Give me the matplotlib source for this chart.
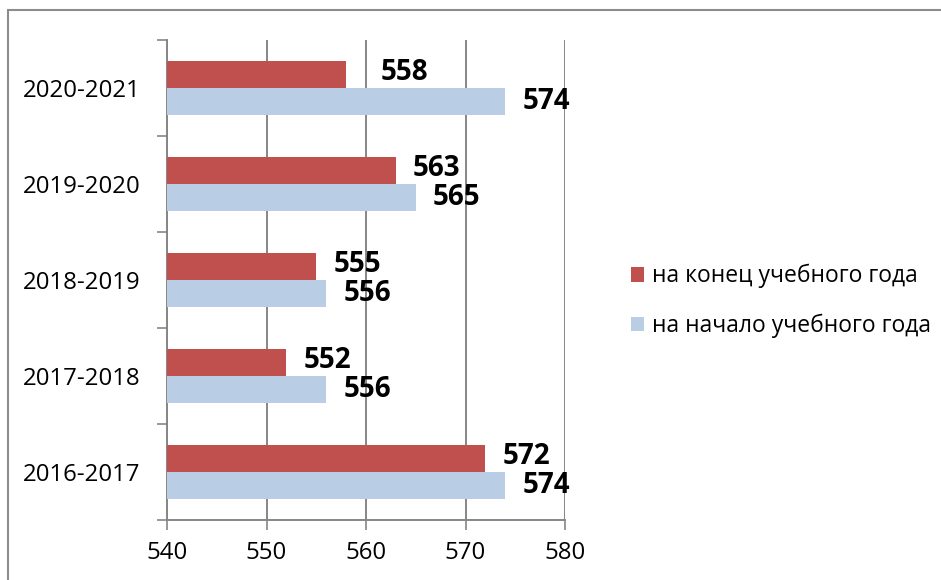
import matplotlib.pyplot as plt
import numpy as np
from matplotlib.patches import Rectangle

# Данные
years = ['2016-2017', '2017-2018', '2018-2019', '2019-2020', '2020-2021']
konec = [572, 552, 555, 563, 558]
nachalo = [574, 556, 556, 565, 574]
label_konec = 'на конец учебного года'
label_nachalo = 'на начало учебного года'
xticks = [540, 550, 560, 570, 580]

red = '#C0504D'
blue = '#B9CDE5'
grey = '#868686'

plt.rcParams['font.family'] = ['Open Sans', 'DejaVu Sans']

fig = plt.figure(figsize=(9.41, 5.8), dpi=100)
ax = fig.add_axes([167 / 941, 1 - 520 / 580, 398 / 941, 480 / 580])

y = np.arange(len(years))
h = 0.286
ax.barh(y + h / 2, [v - 540 for v in konec], left=540, height=h, color=red, label=label_konec, zorder=3)
ax.barh(y - h / 2, [v - 540 for v in nachalo], left=540, height=h, color=blue, label=label_nachalo, zorder=3)

# Подписи значений
pad_konec = [17, 17, 17, 17, 35]
pad_nachalo = [17, 17, 17, 17, 17]
for i in range(len(years)):
    ax.annotate(str(konec[i]), (konec[i], y[i] + h / 2), xytext=(pad_konec[i] * 0.72, 1),
                textcoords='offset points', va='center', ha='left',
                fontsize=20, fontweight='bold', zorder=5, annotation_clip=False)
    ax.annotate(str(nachalo[i]), (nachalo[i], y[i] - h / 2), xytext=(pad_nachalo[i] * 0.72, 0),
                textcoords='offset points', va='center', ha='left',
                fontsize=20, fontweight='bold', zorder=5, annotation_clip=False)

ax.set_xlim(540, 580)
ax.set_ylim(-0.5, len(years) - 0.5)
ax.set_xticks(xticks)
ax.set_xticklabels([str(t) for t in xticks], fontsize=17.3)
ax.xaxis.grid(True, color=grey, linewidth=1.4, zorder=0)
ax.tick_params(axis='x', length=7, width=1.2, color=grey, pad=8)

ax.set_yticks(np.arange(-0.5, len(years), 1.0))
ax.set_yticklabels([])
ax.set_yticks(y, minor=True)
ax.set_yticklabels(years, minor=True, fontsize=17.3)
ax.tick_params(axis='y', which='major', length=7, width=1.2, color=grey)
ax.tick_params(axis='y', which='minor', length=0, pad=19)

for s in ['top', 'right']:
    ax.spines[s].set_visible(False)
for s in ['left', 'bottom']:
    ax.spines[s].set_color(grey)
    ax.spines[s].set_linewidth(1.4)

fig.legend(loc='center left', bbox_to_anchor=(610 / 941, 1 - 301 / 580), frameon=False,
           fontsize=16.5, handlelength=0.6, handleheight=0.6, handletextpad=0.35,
           labelspacing=1.1)

# Рамка вокруг диаграммы
fig.patches.append(Rectangle((8, -20), 960, 580 - 10 + 20, transform=None,
                             fill=False, edgecolor='#8c8c8c', linewidth=1.5))

fig.savefig('out.png', dpi=100)
